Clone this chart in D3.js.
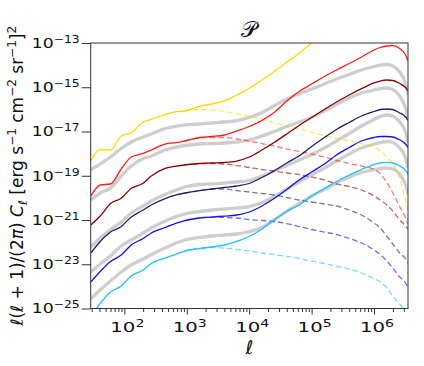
<!DOCTYPE html>
<html>
<head>
<meta charset="utf-8">
<script src="https://cdn.jsdelivr.net/npm/d3@7"></script>
<style>
  body { margin: 0; background: #fff; }
  svg { display: block; font-family: "DejaVu Sans", sans-serif; }
</style>
</head>
<body>
<div id="chart"></div>
<script>
// multipole grid shared by all curves (dashed ones start at ell = 930)
const ell = [29, 41, 60, 89, 129, 200, 270, 450, 680, 930, 1600, 2500, 4000, 6300, 1e4, 1.6e4, 2.5e4, 4e4, 6.3e4,
  1e5, 1.6e5, 2.5e5, 4e5, 6.3e5, 1e6, 1.26e6, 1.6e6, 2e6, 2.5e6, 3.2e6, 3.5e6]
const ellDashed = ell.slice(9)

// solid curves (total)
const yellowSolid = [4.79e-19, 1.53e-18, 1.46e-18, 6.25e-18, 8.83e-18, 2.69e-17, 3.56e-17, 5.74e-17, 7.85e-17, 8.43e-17,
  1.35e-16, 1.75e-16, 2.39e-16, 4.47e-16, 8.95e-16, 2.13e-15, 5.05e-15, 1.34e-14, 3.42e-14, 1.0e-13, 2.55e-13]
const redSolid = [1.21e-20, 3.82e-20, 4.24e-20, 2.02e-19, 7.03e-19, 1.03e-18, 1.46e-18, 2.72e-18, 3.12e-18, 3.72e-18,
  5.36e-18, 5.94e-18, 6.95e-18, 1.05e-17, 1.68e-17, 3.14e-17, 7.23e-17, 2.39e-16, 6.43e-16, 1.40e-15, 3.06e-15,
  6.03e-15, 1.18e-14, 2.33e-14, 4.83e-14, 6.26e-14, 7.31e-14, 7.55e-14, 5.94e-14, 2.87e-14, 1.53e-14]
const darkRedSolid = [5.94e-22, 1.51e-21, 5.56e-21, 9.55e-21, 2.70e-20, 4.55e-20, 9.73e-20, 2.17e-19, 2.75e-19, 3.06e-19,
  3.57e-19, 3.77e-19, 3.97e-19, 4.63e-19, 7.03e-19, 1.46e-18, 3.18e-18, 7.71e-18, 1.87e-17, 4.30e-17, 9.86e-17,
  2.15e-16, 4.47e-16, 8.59e-16, 1.56e-15, 1.91e-15, 2.13e-15, 2.02e-15, 1.56e-15, 9.75e-16, 7.13e-16]
const navySolid = [3.22e-23, 1.07e-22, 2.86e-22, 5.08e-22, 1.36e-21, 2.83e-21, 4.76e-21, 9.35e-21, 1.35e-20, 1.66e-20,
  2.15e-20, 2.52e-20, 2.94e-20, 3.44e-20, 4.46e-20, 8.34e-20, 1.64e-19, 3.77e-19, 7.80e-19, 2.10e-18, 5.36e-18,
  1.23e-17, 2.55e-17, 5.01e-17, 8.02e-17, 9.86e-17, 1.04e-16, 9.86e-17, 7.23e-17, 4.52e-17, 3.14e-17]
const blueSolid = [1.57e-24, 4.70e-24, 1.33e-23, 2.62e-23, 7.41e-23, 1.46e-22, 2.58e-22, 4.58e-22, 7.31e-22, 9.48e-22,
  1.23e-21, 1.36e-21, 1.51e-21, 1.68e-21, 2.30e-21, 4.29e-21, 9.35e-21, 2.39e-20, 6.43e-20, 1.48e-19, 3.40e-19,
  8.67e-19, 1.89e-18, 3.72e-18, 5.36e-18, 5.94e-18, 5.94e-18, 5.64e-18, 4.35e-18, 2.72e-18, 1.89e-18]
const skySolid = [4.12e-26, 1.68e-25, 5.56e-25, 1.04e-24, 2.94e-24, 5.50e-24, 1.08e-23, 1.91e-23, 2.90e-23, 3.96e-23,
  5.14e-23, 6.01e-23, 7.41e-23, 1.07e-22, 1.79e-22, 3.92e-22, 1.00e-21, 2.42e-21, 4.76e-21, 1.21e-20, 2.65e-20,
  5.50e-20, 1.08e-19, 1.91e-19, 3.22e-19, 3.77e-19, 4.06e-19, 3.77e-19, 2.90e-19, 1.73e-19, 1.20e-19]

// dashed curves
const yellowDashed = [8.43e-17, 9.86e-17, 9.38e-17, 8.02e-17, 6.50e-17, 5.01e-17, 3.67e-17, 2.55e-17, 1.77e-17, 1.30e-17,
  9.02e-18, 6.59e-18, 5.08e-18, 3.72e-18, 2.86e-18, 1.99e-18, 1.31e-18, 7.03e-19, 3.40e-19, 9.73e-20, 8.02e-21, 2.83e-21]
const redDashed = [3.72e-18, 5.08e-18, 5.36e-18, 5.36e-18, 4.58e-18, 3.72e-18, 2.86e-18, 2.21e-18, 1.62e-18, 1.25e-18,
  9.62e-19, 7.03e-19, 4.89e-19, 3.57e-19, 2.75e-19, 1.91e-19, 1.26e-19, 4.95e-20, 1.66e-20, 4.76e-21, 1.23e-21, 6.59e-22]
const darkRedDashed = [3.06e-19, 3.57e-19, 3.57e-19, 3.40e-19, 2.90e-19, 2.36e-19, 1.91e-19, 1.64e-19, 1.33e-19, 1.14e-19,
  8.77e-20, 6.43e-20, 4.24e-20, 3.27e-20, 2.27e-20, 1.21e-20, 8.02e-21, 4.76e-21, 2.55e-21, 1.11e-21, 5.35e-22, 3.92e-22]
const navyDashed = [1.66e-20, 2.15e-20, 2.52e-20, 2.52e-20, 2.15e-20, 1.84e-20, 1.57e-20, 1.35e-20, 1.04e-20, 8.02e-21,
  6.50e-21, 5.28e-21, 4.29e-21, 2.83e-21, 1.68e-21, 7.31e-22, 4.35e-22, 1.89e-22, 8.22e-23, 3.57e-23, 1.73e-23, 1.14e-23]
const blueDashed = [9.48e-22, 1.23e-21, 1.36e-21, 1.30e-21, 1.23e-21, 1.05e-21, 9.48e-22, 8.55e-22, 6.93e-22, 5.08e-22,
  3.72e-22, 2.86e-22, 2.21e-22, 1.46e-22, 9.12e-23, 4.41e-23, 2.75e-23, 1.40e-23, 6.76e-24, 2.94e-24, 1.42e-24, 9.35e-25]
const skyDashed = [3.96e-23, 5.42e-23, 5.71e-23, 5.42e-23, 4.63e-23, 3.96e-23, 3.22e-23, 2.75e-23, 2.24e-23, 1.82e-23,
  1.40e-23, 1.08e-23, 8.32e-24, 6.10e-24, 4.02e-24, 2.26e-24, 1.57e-24, 8.43e-25, 3.66e-25, 1.77e-25, 7.69e-26, 5.64e-26]

// grey model curves
const grey1 = [1.82e-19, 3.40e-19, 7.03e-19, 1.70e-18, 3.35e-18, 5.64e-18, 7.71e-18, 1.36e-17, 1.77e-17, 1.97e-17,
  2.18e-17, 2.42e-17, 2.69e-17, 3.14e-17, 4.30e-17, 7.23e-17, 1.42e-16, 2.94e-16, 4.95e-16, 8.34e-16, 1.40e-15,
  2.36e-15, 3.77e-15, 6.03e-15, 8.67e-15, 1.01e-14, 1.07e-14, 9.12e-15, 5.42e-15, 1.40e-15, 4.47e-16]
const grey2 = [8.02e-21, 1.66e-20, 2.79e-20, 9.73e-20, 2.75e-19, 6.01e-19, 7.80e-19, 1.46e-18, 1.99e-18, 2.33e-18,
  2.72e-18, 2.86e-18, 3.02e-18, 3.35e-18, 4.13e-18, 6.25e-18, 1.00e-17, 1.68e-17, 2.69e-17, 4.30e-17, 8.43e-17,
  1.66e-16, 3.27e-16, 5.50e-16, 7.52e-16, 8.77e-16, 9.25e-16, 7.91e-16, 4.47e-16, 1.15e-16, 4.07e-17]
const grey3 = [6.01e-23, 1.53e-22, 3.72e-22, 8.11e-22, 2.07e-21, 4.29e-21, 7.21e-21, 1.42e-20, 2.27e-20, 3.10e-20,
  4.02e-20, 4.24e-20, 4.70e-20, 5.21e-20, 6.10e-20, 9.73e-20, 1.64e-19, 2.90e-19, 5.15e-19, 9.12e-19, 1.79e-18,
  3.72e-18, 8.11e-18, 1.77e-17, 3.48e-17, 4.76e-17, 5.57e-17, 5.01e-17, 2.98e-17, 9.48e-18, 3.35e-18]
const grey4 = [4.46e-24, 1.03e-23, 2.36e-23, 6.67e-23, 1.25e-22, 2.58e-22, 4.35e-22, 8.99e-22, 1.44e-21, 1.87e-21,
  2.42e-21, 2.83e-21, 3.14e-21, 3.48e-21, 4.07e-21, 6.18e-21, 1.15e-20, 2.52e-20, 5.21e-20, 1.08e-19, 2.24e-19,
  4.63e-19, 9.62e-19, 1.79e-18, 2.72e-18, 3.18e-18, 3.53e-18, 3.18e-18, 1.99e-18, 6.34e-19, 2.24e-19]
const grey5 = [2.69e-25, 6.85e-25, 1.75e-24, 4.46e-24, 9.25e-24, 1.73e-23, 2.75e-23, 5.42e-23, 9.12e-23, 1.25e-22,
  1.62e-22, 1.89e-22, 2.10e-22, 2.33e-22, 3.02e-22, 4.58e-22, 1.00e-21, 2.55e-21, 5.56e-21, 1.21e-20, 2.39e-20,
  4.70e-20, 8.77e-20, 1.40e-19, 1.91e-19, 2.12e-19, 2.24e-19, 2.02e-19, 1.33e-19, 3.82e-20, 1.50e-20]

const colors = ["#ffd700", "#ff1a1a", "#8b0000", "#1f1f6e", "#1010f0", "#1ec0ff"]
const solids = [yellowSolid, redSolid, darkRedSolid, navySolid, blueSolid, skySolid]
const dashed = [yellowDashed, redDashed, darkRedDashed, navyDashed, blueDashed, skyDashed]
const greys = [grey1, grey2, grey3, grey4, grey5]

const yTicks = [1e-13, 1e-15, 1e-17, 1e-19, 1e-21, 1e-23, 1e-25]
const xMajor = [1e2, 1e3, 1e4, 1e5, 1e6]

drawChart()

function drawChart() {
  const width = 424,
    height = 366
  const left = 90.7,
    right = 408,
    top = 43,
    bottom = 308.5

  const svg = d3.select("#chart").append("svg").attr("width", width).attr("height", height)

  const x = d3.scaleLog().domain([28.9, 3.5e6]).range([left, right])
  const y = d3.scaleLog().domain([1e-25, 1e-13]).range([bottom, top])

  svg
    .append("clipPath")
    .attr("id", "plot-clip")
    .append("rect")
    .attr("x", left)
    .attr("y", top)
    .attr("width", right - left)
    .attr("height", bottom - top)

  const plot = svg.append("g").attr("clip-path", "url(#plot-clip)")

  const line = (xs) =>
    d3
      .line()
      .x((d, i) => x(xs[i]))
      .y((d) => y(d))
      .curve(d3.curveMonotoneX)

  // grey curves underneath
  greys.forEach((vals) => {
    plot
      .append("path")
      .attr("d", line(ell)(vals))
      .attr("fill", "none")
      .attr("stroke", "#cecece")
      .attr("stroke-width", 3.3)
      .attr("stroke-linejoin", "round")
  })

  dashed.forEach((vals, i) => {
    plot
      .append("path")
      .attr("d", line(ellDashed)(vals))
      .attr("fill", "none")
      .attr("stroke", colors[i])
      .attr("stroke-opacity", 0.6)
      .attr("stroke-width", 1.3)
      .attr("stroke-dasharray", "5.5,3")
  })

  solids.forEach((vals, i) => {
    plot
      .append("path")
      .attr("d", line(ell)(vals))
      .attr("fill", "none")
      .attr("stroke", colors[i])
      .attr("stroke-width", 1.3)
      .attr("stroke-linejoin", "round")
  })

  // x axis: minor ticks then labelled decades
  const xMinor = x.ticks().filter((t) => !xMajor.includes(t))
  svg
    .append("g")
    .attr("transform", `translate(0,${bottom})`)
    .call(d3.axisBottom(x).tickValues(xMinor).tickSize(3.5).tickSizeOuter(0).tickFormat(""))
    .call((g) => g.select(".domain").remove())
    .call((g) => g.selectAll("line").attr("stroke", "#333"))

  const gx = svg
    .append("g")
    .attr("transform", `translate(0,${bottom})`)
    .call(d3.axisBottom(x).tickValues(xMajor).tickSize(6).tickPadding(8).tickSizeOuter(0))
  gx.select(".domain").remove()
  gx.selectAll("line").attr("stroke", "#333")
  gx.selectAll("text").each(function (d) {
    powerLabel(d3.select(this), Math.round(Math.log10(d)), 34)
  })
  gx.selectAll("text").attr("dx", 2.5)

  const gy = svg
    .append("g")
    .attr("transform", `translate(${left},0)`)
    .call(d3.axisLeft(y).tickValues(yTicks).tickSize(9).tickPadding(2).tickSizeOuter(0))
  gy.select(".domain").remove()
  gy.selectAll("line").attr("stroke", "#333")
  gy.selectAll("text").each(function (d) {
    powerLabel(d3.select(this), Math.round(Math.log10(d)), 48)
  })

  svg.selectAll(".tick text").attr("fill", "#111").attr("font-family", "DejaVu Sans").attr("font-size", 14)

  // frame
  svg
    .append("rect")
    .attr("x", left)
    .attr("y", top)
    .attr("width", right - left)
    .attr("height", bottom - top)
    .attr("fill", "none")
    .attr("stroke", "#333")
    .attr("stroke-width", 1)

  // title
  svg
    .append("text")
    .attr("x", (left + right) / 2)
    .attr("y", 37)
    .attr("text-anchor", "middle")
    .attr("font-size", 22)
    .attr("fill", "#111")
    .text("𝒫")

  // x label
  svg
    .append("text")
    .attr("x", (left + right) / 2)
    .attr("y", 354)
    .attr("text-anchor", "middle")
    .attr("font-size", 19)
    .attr("font-style", "italic")
    .attr("fill", "#111")
    .text("ℓ")

  // y label with sub/superscripts
  const ylab = svg
    .append("text")
    .attr("transform", `translate(23,${(top + bottom) / 2}) rotate(-90)`)
    .attr("text-anchor", "middle")
    .attr("font-size", 17)
    .attr("fill", "#111")
  const parts = [
    ["ℓ", "i"], ["(", ""], ["ℓ", "i"], [" + 1)/(2", ""], ["π", "i"], [") ", ""], ["C", "i"], ["ℓ", "sub"],
    [" [erg s", ""], ["−1", "sup"], [" cm", ""], ["−2", "sup"], [" sr", ""], ["−1", "sup"], ["]", ""], ["2", "sup"],
  ]
  let shift = 0
  parts.forEach(([t, mode]) => {
    const target = mode === "sup" ? -7 : mode === "sub" ? 4 : 0
    ylab
      .append("tspan")
      .attr("dy", target - shift)
      .attr("font-size", mode === "sup" || mode === "sub" ? 12 : 17)
      .attr("font-style", mode === "i" || mode === "sub" ? "italic" : "normal")
      .text(t)
    shift = target
  })
}

// "10" with superscript exponent, stretched to the width seen in the figure
function powerLabel(t, exp, len) {
  t.text("")
  t.attr("textLength", len).attr("lengthAdjust", "spacingAndGlyphs")
  t.append("tspan").text("10")
  t.append("tspan")
    .attr("dy", "-0.5em")
    .attr("font-size", 10)
    .text(exp < 0 ? "−" + Math.abs(exp) : String(exp))
}
</script>
</body>
</html>
